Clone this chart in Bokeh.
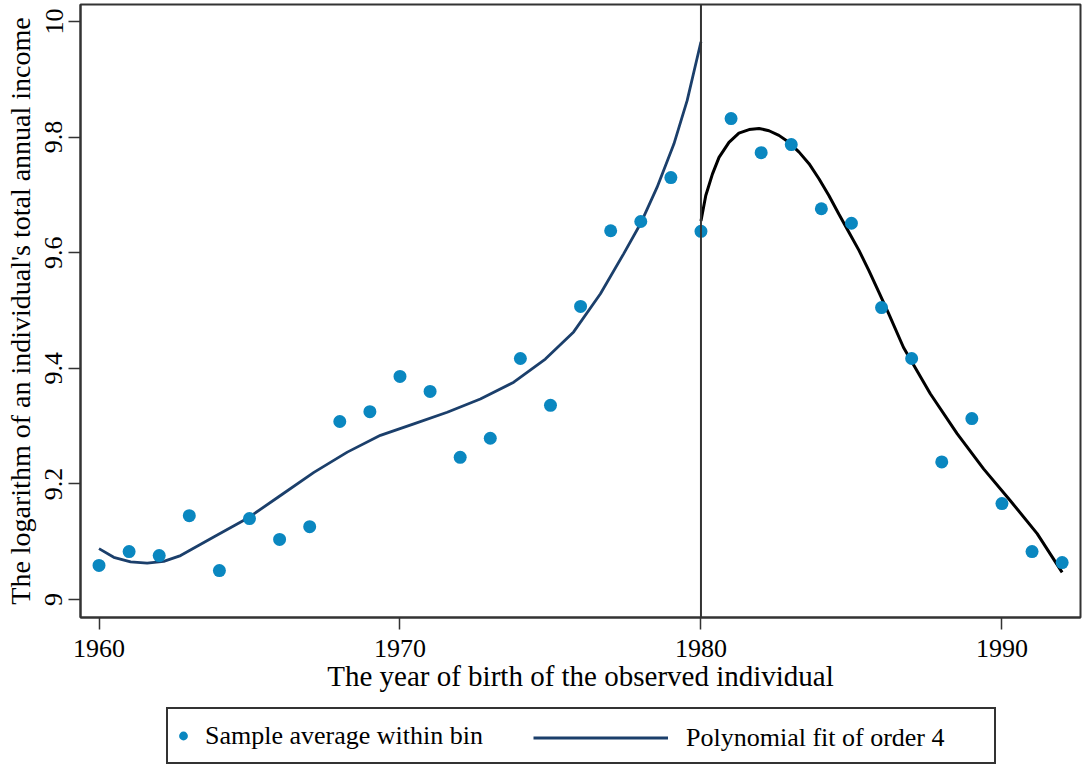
from bokeh.plotting import figure
from bokeh.layouts import column
from bokeh.models import Range1d, FixedTicker, Span, Legend, LegendItem
from bokeh.embed import file_html
from bokeh.resources import INLINE

# ---- data ----
bin_years = list(range(1960, 1993))
bin_means = [9.059, 9.083, 9.076, 9.145, 9.050, 9.140, 9.104, 9.126, 9.308, 9.325,
             9.386, 9.360, 9.246, 9.279, 9.417, 9.336, 9.507, 9.638, 9.654, 9.730,
             9.637, 9.832, 9.773, 9.787, 9.676, 9.651, 9.505, 9.417, 9.238, 9.313,
             9.166, 9.083, 9.064]

left_fit_x = [1960.0, 1960.49, 1961.05, 1961.60, 1962.15, 1962.71, 1963.81, 1964.92,
              1966.03, 1967.14, 1968.25, 1969.35, 1970.46, 1971.57, 1972.67, 1973.78,
              1974.83, 1975.77, 1976.66, 1977.43, 1977.99, 1978.54, 1979.10, 1979.54,
              1980.0]
left_fit_y = [9.088, 9.073, 9.065, 9.063, 9.066, 9.076, 9.108, 9.140,
              9.180, 9.220, 9.255, 9.284, 9.304, 9.324, 9.347, 9.376,
              9.416, 9.463, 9.529, 9.598, 9.650, 9.713, 9.788, 9.863,
              9.965]

right_fit_x = [1980.0, 1980.16, 1980.38, 1980.60, 1980.93, 1981.26, 1981.60, 1981.93,
               1982.26, 1982.59, 1982.92, 1983.26, 1983.59, 1983.92, 1984.25, 1984.58,
               1984.92, 1985.25, 1985.58, 1985.91, 1986.24, 1986.73, 1987.62, 1988.51,
               1989.39, 1990.28, 1991.17, 1992.0]
right_fit_y = [9.655, 9.699, 9.736, 9.765, 9.791, 9.807, 9.813, 9.815,
               9.811, 9.803, 9.791, 9.774, 9.754, 9.728, 9.699, 9.667,
               9.635, 9.604, 9.569, 9.532, 9.494, 9.436, 9.356, 9.287,
               9.226, 9.171, 9.114, 9.047]

cutoff_year = 1980
x_ticks = [1960, 1970, 1980, 1990]
y_ticks = [9, 9.2, 9.4, 9.6, 9.8, 10]
y_tick_labels = ["9", "9.2", "9.4", "9.6", "9.8", "10"]
x_title = "The year of birth of the observed individual"
y_title = "The logarithm of an individual's total annual income"
legend_labels = ["Sample average within bin", "Polynomial fit of order 4"]

FONT = "Liberation Serif"
DARK = "#333333"
DOT = "#0a87c0"
NAVY = "#1b3f6b"

p = figure(width=1082, height=705, output_backend="svg", toolbar_location=None,
           x_range=Range1d(1959.385, 1992.61), y_range=Range1d(8.9689, 10.0294),
           min_border_left=80, min_border_right=2, min_border_top=4,
           min_border_bottom=88, background_fill_color="white",
           border_fill_color="white")

p.xgrid.visible = False
p.ygrid.visible = False
p.outline_line_color = DARK
p.outline_line_width = 2

for ax in (p.xaxis[0], p.yaxis[0]):
    ax.axis_line_color = DARK
    ax.axis_line_width = 2
    ax.major_tick_line_color = DARK
    ax.major_tick_line_width = 1.5
    ax.major_tick_out = 12
    ax.major_tick_in = 0
    ax.minor_tick_line_color = None
    ax.major_label_text_font = FONT
    ax.major_label_text_font_size = "26px"
    ax.major_label_text_color = "black"
    ax.axis_label_text_font = FONT
    ax.axis_label_text_font_style = "normal"
    ax.axis_label_text_color = "black"

p.xaxis.axis_label_text_font_size = "29px"
p.yaxis.axis_label_text_font_size = "28px"
p.xaxis.ticker = FixedTicker(ticks=x_ticks)
p.yaxis.ticker = FixedTicker(ticks=y_ticks)
p.yaxis.major_label_overrides = {t: s for t, s in zip(y_ticks, y_tick_labels)}
p.yaxis.major_label_orientation = "vertical"
p.xaxis.axis_label = x_title
p.yaxis.axis_label = y_title
p.xaxis.major_label_standoff = 10
p.xaxis.axis_label_standoff = 0
p.yaxis.major_label_standoff = 6
p.yaxis.axis_label_standoff = 7

p.add_layout(Span(location=cutoff_year, dimension="height",
                  line_color=DARK, line_width=2))

p.line(left_fit_x, left_fit_y, line_color=NAVY, line_width=2.8)
p.line(right_fit_x, right_fit_y, line_color="black", line_width=3)
p.scatter(bin_years, bin_means, size=13, fill_color=DOT, line_color=None)

# ---- legend strip below the plot (its frame is aligned with the plot's) ----
p2 = figure(width=1082, height=62, output_backend="svg", toolbar_location=None,
            x_range=Range1d(0, 1), y_range=Range1d(0, 1),
            x_axis_location=None, y_axis_location=None, min_border=0,
            outline_line_color=None, background_fill_color="white",
            border_fill_color="white")
p2.grid.visible = False
# same series, outside this strip's ranges: only used to draw the legend keys
key_pts = p2.scatter(bin_years, bin_means, size=13, fill_color=DOT, line_color=None)
key_line = p2.line(left_fit_x, left_fit_y, line_color=NAVY, line_width=2.8)

common = dict(glyph_height=45, padding=4, margin=0, spacing=0,
              label_text_font=FONT, label_text_font_size="26px",
              label_text_color="black", background_fill_alpha=0)
leg1 = Legend(items=[LegendItem(label=legend_labels[0], renderers=[key_pts], index=0)],
              location=(86, 3), glyph_width=22, label_standoff=11,
              label_width=785, border_line_color=DARK, border_line_width=2,
              border_line_alpha=1.0, **common)
leg2 = Legend(items=[LegendItem(label=legend_labels[1], renderers=[key_line])],
              location=(449, 3), glyph_width=135, label_standoff=18,
              border_line_alpha=0, **common)
p2.add_layout(leg1)
p2.add_layout(leg2)

layout = column(p, p2, spacing=0)
open("out.html", "w").write(file_html(layout, INLINE))
